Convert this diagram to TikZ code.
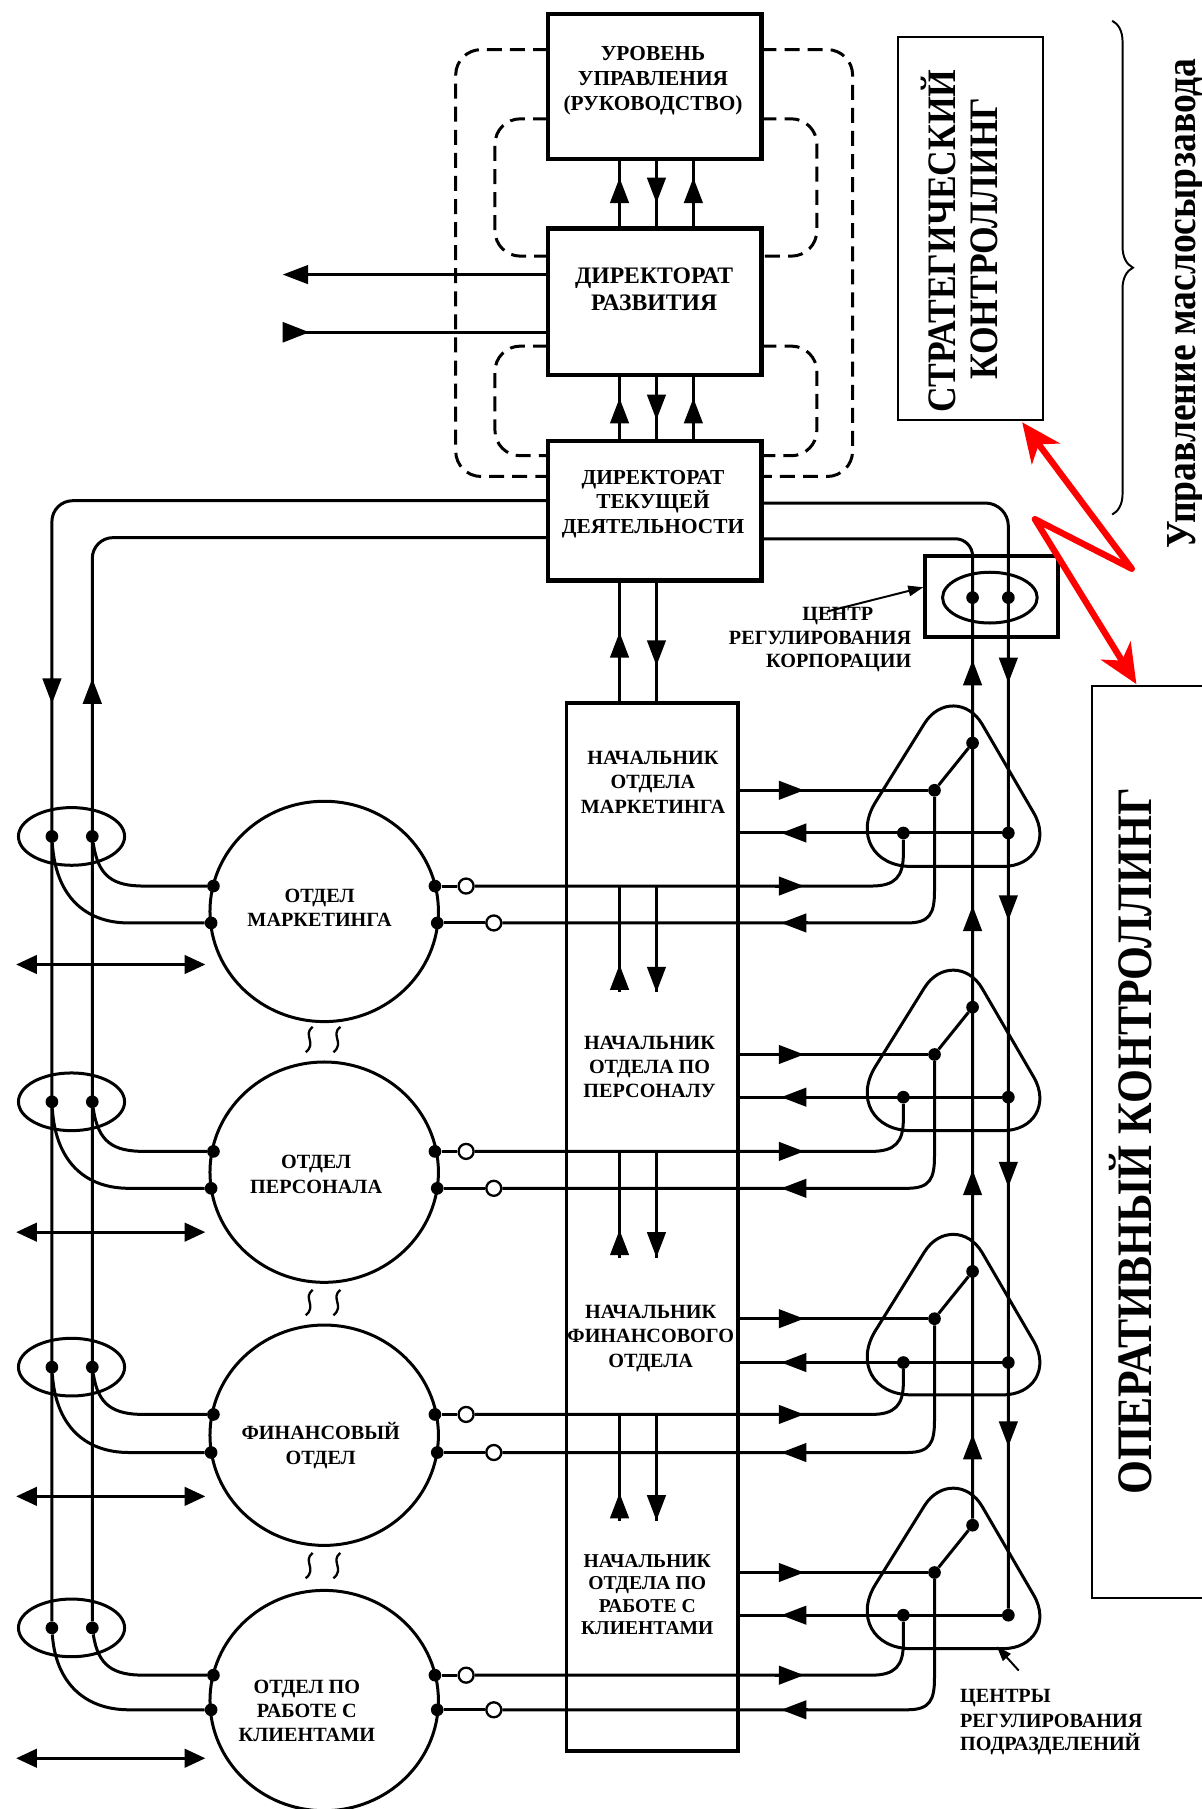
\documentclass[tikz,border=0pt]{standalone}
\usepackage{fontspec}
\setmainfont{Liberation Serif}
\newfontfamily\condfont[FakeStretch=0.88]{Liberation Serif}
\usetikzlibrary{arrows.meta,shapes.geometric,decorations.pathreplacing}
\begin{document}
\begin{tikzpicture}[x=1pt,y=-1pt,
  ln/.style={line width=2.6pt},
  thinln/.style={line width=1.7pt},
  bx/.style={draw,line width=3.8pt,minimum width=185pt,inner sep=0pt},
  arr/.style={line width=2.6pt,-{Triangle[length=22pt,width=16pt]}},
  dbl/.style={line width=2.6pt,{Triangle[length=18pt,width=16pt]}-{Triangle[length=18pt,width=16pt]}},
  blob/.style={circle,fill,inner sep=0pt,minimum size=11pt},
  odot/.style={circle,draw,fill=white,line width=2pt,inner sep=0pt,minimum size=13pt},
  dsh/.style={line width=2.6pt,dash pattern=on 13pt off 7pt,rounded corners=22pt},
  lbl/.style={font=\bfseries\fontsize{17.5}{21}\selectfont,align=center,inner sep=0pt},
  oval/.style={draw,ellipse,inner sep=0pt,line width=2.6pt},
  redarr/.style={red,line width=5.5pt,line join=round,{Stealth[length=34pt,width=30pt,inset=10pt]}-{Stealth[length=34pt,width=30pt,inset=10pt]}},
]
\useasboundingbox (0,0) rectangle (1041,1568);

% ---------- top boxes ----------
\node[bx,minimum height=126pt] (b1) at (567.5,75) {};
\node[bx,minimum height=127pt] (b2) at (567.5,261.5) {};
\node[bx,minimum height=121pt] (b3) at (567.5,442.5) {};
\node[lbl,font=\bfseries\fontsize{18.5}{21.5}\selectfont] (t1) at (566,70) {УРОВЕНЬ\\УПРАВЛЕНИЯ\\(РУКОВОДСТВО)};
\node[lbl,font=\bfseries\fontsize{20.5}{23.5}\selectfont] (t2) at (567,251) {ДИРЕКТОРАТ\\РАЗВИТИЯ};
\node[lbl,font=\bfseries\fontsize{18.5}{21}\selectfont] (t3) at (566,437) {ДИРЕКТОРАТ\\ТЕКУЩЕЙ\\ДЕЯТЕЛЬНОСТИ};

% dashed loops
\draw[dsh] (475,43) -- (395,43) -- (395,413) -- (475,413);
\draw[dsh] (660,43) -- (739,43) -- (739,413) -- (660,413);
\draw[dsh] (475,103) -- (429,103) -- (429,222) -- (475,222);
\draw[dsh] (660,103) -- (708,103) -- (708,222) -- (660,222);
\draw[dsh] (475,300) -- (429,300) -- (429,395) -- (475,395);
\draw[dsh] (660,300) -- (708,300) -- (708,395) -- (660,395);

% arrows b1-b2
\draw[ln] (537,198) -- (537,138); \draw[arr] (537,176) -- (537,154);
\draw[ln] (569,138) -- (569,198); \draw[arr] (569,154) -- (569,176);
\draw[ln] (601,198) -- (601,138); \draw[arr] (601,176) -- (601,154);
% arrows b2-b3
\draw[ln] (537,382) -- (537,325); \draw[arr] (537,367) -- (537,345);
\draw[ln] (569,325) -- (569,382); \draw[arr] (569,342) -- (569,364);
\draw[ln] (601,382) -- (601,325); \draw[arr] (601,367) -- (601,345);

% left arrows of b2
\draw[ln,-{Triangle[length=22pt,width=16pt]}] (475,238) -- (245,238);
\draw[ln] (475,288) -- (262,288);
\fill (245,279) -- (268,288) -- (245,297) -- cycle;

% ---------- nachalnik box ----------
\node[draw,line width=3.4pt,minimum width=149pt,minimum height=909pt,inner sep=0pt] (nb) at (565.5,1063.5) {};
\draw[ln] (537,609) -- (537,503); \draw[arr] (537,572) -- (537,548);
\draw[ln] (569,503) -- (569,609); \draw[arr] (569,553) -- (569,577);

% ---------- sections ----------
\foreach \s/\A/\B/\U/\L/\C/\E/\D in {1/685/722/768/800/790/725/836,2/914/951/998/1030/1016/955/1068,3/1143/1181/1226/1259/1244/1185/1297,4/1363/1400/1452/1482/1474/1411/1524}{
  \node[oval,minimum width=198pt,minimum height=191pt] (c\s) at (281,\C) {};
  \node[oval,minimum width=92pt,minimum height=50pt] (el\s) at (62,\E) {};
  \draw[ln] (851.4,{\A-57.1}) -- (896,{\A+19.6})
     .. controls (909.5,{\A+42.8}) and (896.2,{\A+66}) .. (869.3,{\A+66})
     -- (789.8,{\A+66})
     .. controls (756.9,{\A+66}) and (741.5,{\A+38.1}) .. (758.9,{\A+10.2})
     -- (801.3,{\A-57.9})
     .. controls (814.2,{\A-78.5}) and (839.2,{\A-78.1}) .. (851.4,{\A-57.1}) -- cycle;
  \node[blob] (la\s) at (45,\E) {};
  \node[blob] (lb\s) at (80,\E) {};
  \node[blob] (cl\s) at (185,\U) {};
  \node[blob] (cm\s) at (183,\L) {};
  \node[blob] (cr\s) at (377,\U) {};
  \node[blob] (cs\s) at (379,\L) {};
  \node[odot] (oa\s) at (404,\U) {};
  \node[odot] (ob\s) at (428,\L) {};
  \node[blob] (da\s) at (810,\A) {};
  \node[blob] (db\s) at (783,\B) {};
  \node[blob] (dc\s) at (874,\B) {};
  \node[blob] (dd\s) at (843,{\A-41}) {};
  % left curves
  \draw[ln] (lb\s) .. controls (85,{\U-8}) and (98,\U) .. (125,\U) -- (cl\s);
  \draw[ln] (la\s) .. controls (48,{\L-25}) and (72,\L) .. (112,\L) -- (cm\s);
  % right lines
  \draw[ln] (cr\s) -- (oa\s);
  \draw[ln] (oa\s) -- (755,\U) .. controls (776,\U) and (783,{\U-8}) .. (783,{\U-28}) -- (db\s);
  \draw[ln] (cs\s) -- (ob\s);
  \draw[ln] (ob\s) -- (786,\L) .. controls (806,\L) and (810,{\L-8}) .. (810,{\L-28}) -- (da\s);
  \draw[ln] (641,\A) -- (da\s);
  \draw[ln] (dc\s) -- (641,\B);
  \draw[ln] (da\s) -- (dd\s);
  \draw[arr] (672,\A) -- (697,\A);
  \draw[arr] (700,\B) -- (677,\B);
  \draw[arr] (672,\U) -- (697,\U);
  \draw[arr] (700,\L) -- (677,\L);
  \draw[dbl] (14,\D) -- (178,\D);
}

% between sections
\foreach \U/\ua/\da/\sq in {768/785/798/890,998/1014/1029/1118,1226/1243/1254/1346}{
  \draw[ln] (537,\U) -- (537,{\U+92});
  \draw[arr] (537,{\U+92}) -- (537,{\U+68});
  \draw[ln] (569,\U) -- (569,{\U+92});
  \draw[arr] (569,{\U+68}) -- (569,{\U+92});
  \draw[arr] (843,{\ua+22}) -- (843,\ua);
  \draw[arr] (874,{\da-22}) -- (874,\da);
  \draw[line width=2pt] (271,\sq) .. controls (262,{\sq+7}) and (275,{\sq+14}) .. (265,{\sq+22});
  \draw[line width=2pt] (295,\sq) .. controls (286,{\sq+7}) and (299,{\sq+14}) .. (289,{\sq+22});
}

% long verticals
\draw[ln,rounded corners=20pt] (660,436) -- (874,436) -- (dc4);
\draw[ln,rounded corners=15pt] (660,467) -- (843,467) -- (dd4);
\draw[ln,rounded corners=18pt] (475,434) -- (45,434) -- (la4);
\draw[ln,rounded corners=18pt] (475,466) -- (80,466) -- (lb4);
\draw[arr] (45,588) -- (45,610);
\draw[arr] (80,610) -- (80,588);
\draw[arr] (843,594) -- (843,572);
\draw[arr] (874,570) -- (874,592);

% corporate regulation centre
\node[draw,line width=3.4pt,minimum width=115pt,minimum height=70pt,inner sep=0pt] (cb) at (859.5,517) {};
\node[oval,minimum width=82pt,minimum height=44pt] (ce) at (858,518) {};
\node[blob] (cea) at (843,518) {};
\node[blob] (ceb) at (874,518) {};
\node[lbl,anchor=base east] (cz1) at (757,538) {ЦЕНТР};
\node[lbl,anchor=base east] (cz2) at (790,559) {РЕГУЛИРОВАНИЯ};
\node[lbl,anchor=base east] (cz3) at (790,579) {КОРПОРАЦИИ};
\draw[thinln,-{Triangle[length=13pt,width=9pt]}] (717,530) -- (cb.west |- 0,509);

% labels
\node[lbl] (n1) at (566,678) {НАЧАЛЬНИК\\ОТДЕЛА\\МАРКЕТИНГА};
\node[lbl] (n2) at (563,925) {НАЧАЛЬНИК\\ОТДЕЛА ПО\\ПЕРСОНАЛУ};
\node[lbl] (n3) at (564,1160) {НАЧАЛЬНИК\\ФИНАНСОВОГО\\ОТДЕЛА};
\node[lbl,font=\bfseries\fontsize{17}{19.5}\selectfont] (n4) at (561,1382) {НАЧАЛЬНИК\\ОТДЕЛА ПО\\РАБОТЕ С\\КЛИЕНТАМИ};
\node[lbl] (k1) at (277,787) {ОТДЕЛ\\МАРКЕТИНГА};
\node[lbl] (k2) at (274,1018) {ОТДЕЛ\\ПЕРСОНАЛА};
\node[lbl] (k3) at (278,1253) {ФИНАНСОВЫЙ\\ОТДЕЛ};
\node[lbl] (k4) at (266,1483) {ОТДЕЛ ПО\\РАБОТЕ С\\КЛИЕНТАМИ};

\node[lbl,anchor=base west] (cp1) at (832,1476) {ЦЕНТРЫ};
\node[lbl,anchor=base west] (cp2) at (832,1497) {РЕГУЛИРОВАНИЯ};
\node[lbl,anchor=base west] (cp3) at (832,1517) {ПОДРАЗДЕЛЕНИЙ};
\draw[thinln,-{Triangle[length=13pt,width=9pt]}] (883,1448) -- (864,1427);

% ---------- right annotations ----------
\node[draw,line width=1.6pt,minimum width=126pt,minimum height=332pt,inner sep=0pt] (sk) at (841,198) {};
\node[rotate=90,anchor=base,inner sep=0pt,font=\condfont\bfseries\fontsize{35}{40}\selectfont] (skt1) at (828,209) {СТРАТЕГИЧЕСКИЙ};
\node[rotate=90,anchor=base,inner sep=0pt,font=\condfont\bfseries\fontsize{35}{40}\selectfont] (skt2) at (865,207) {КОНТРОЛЛИНГ};

\node[draw,line width=1.6pt,minimum width=160pt,minimum height=790pt,inner sep=0pt,anchor=north west] (ok) at (945.5,594) {};
\node[rotate=90,anchor=base,inner sep=0pt,font=\condfont\bfseries\fontsize{43}{48}\selectfont] (okt) at (998,989) {ОПЕРАТИВНЫЙ КОНТРОЛЛИНГ};

\draw[thinln,decorate,decoration={brace,amplitude=18pt}] (964,18) -- (964,446);
\node[rotate=90,anchor=base,inner sep=0pt,font=\condfont\bfseries\fontsize{37}{42}\selectfont] (upr) at (1036,263) {Управление маслосырзавода};

\draw[redarr] (886,366) -- (981,493) -- (897,450) -- (985,593);
\end{tikzpicture}
\end{document}
